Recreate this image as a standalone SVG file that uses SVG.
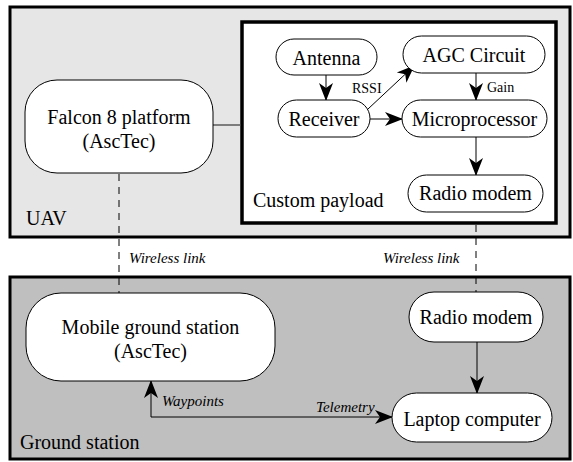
<svg xmlns="http://www.w3.org/2000/svg" width="573" height="462" viewBox="0 0 573 462">
<defs>
<marker id="ah" markerUnits="userSpaceOnUse" markerWidth="18" markerHeight="16" refX="17" refY="8" orient="auto-start-reverse" viewBox="0 0 18 16">
<path d="M0,1 L18,8 L0,15 L5,8 Z" fill="#000"/>
</marker>
<style>
.node{fill:#fff;stroke:#000;stroke-width:1}
.t{font-family:"Liberation Serif","DejaVu Serif",serif;font-size:20px;fill:#000;text-anchor:middle}
.lbl{font-family:"Liberation Serif","DejaVu Serif",serif;font-size:20px;fill:#000}
.sm{font-family:"Liberation Serif","DejaVu Serif",serif;font-size:14px;fill:#000}
.it{font-family:"Liberation Serif","DejaVu Serif",serif;font-size:15px;font-style:italic;fill:#000}
.c{fill:none;stroke:#000;stroke-width:1}
.d{fill:none;stroke:#000;stroke-width:1;stroke-dasharray:7,6}
</style>
</defs>
<rect width="573" height="462" fill="#fff"/>
<g id="uav">
<rect x="10" y="7" width="560" height="230" fill="#e6e6e6" stroke="#000" stroke-width="3"/>
<text class="lbl" x="26" y="225">UAV</text>
</g>
<g id="ground">
<rect x="10" y="277" width="560" height="182" fill="#bfbfbf" stroke="#000" stroke-width="3"/>
<text class="lbl" x="20" y="449">Ground station</text>
</g>
<g id="payload">
<rect x="242" y="22" width="314" height="201" fill="#fff" stroke="#000" stroke-width="3.5"/>
<text class="lbl" x="253" y="207">Custom payload</text>
</g>
<g id="connectors">
<line x1="213" y1="125" x2="241" y2="125" stroke="#444" stroke-width="1.3"/>
<line class="d" x1="119" y1="174" x2="119" y2="293"/>
<line class="d" x1="476" y1="225" x2="476" y2="292"/>
<line class="c" x1="326" y1="75" x2="326" y2="100" marker-end="url(#ah)"/>
<line class="c" x1="370" y1="119" x2="402" y2="119" marker-end="url(#ah)"/>
<line class="c" x1="368" y1="109" x2="414" y2="66" marker-end="url(#ah)"/>
<line class="c" x1="476" y1="73" x2="476" y2="100" marker-end="url(#ah)"/>
<line class="c" x1="476" y1="137" x2="476" y2="175" marker-end="url(#ah)"/>
<line class="c" x1="477" y1="342" x2="477" y2="393" marker-end="url(#ah)"/>
<path class="c" d="M151,381 V417 H392" marker-start="url(#ah)" marker-end="url(#ah)"/>
<text class="sm" x="352" y="93">RSSI</text>
<text class="sm" x="487" y="92">Gain</text>
<text class="it" x="129" y="263">Wireless link</text>
<text class="it" x="383" y="263">Wireless link</text>
<text class="it" x="162" y="406">Waypoints</text>
<text class="it" x="316" y="412">Telemetry</text>
</g>
<g id="falcon">
<rect class="node" x="25" y="80" width="188" height="93" rx="32"/>
<text class="t" x="119" y="124">Falcon 8 platform</text>
<text class="t" x="119" y="148">(AscTec)</text>
</g>
<g id="antenna">
<rect class="node" x="276" y="39" width="101" height="36" rx="18"/>
<text class="t" x="326.5" y="65">Antenna</text>
</g>
<g id="agc">
<rect class="node" x="403" y="36" width="142" height="37" rx="18.5"/>
<text class="t" x="474" y="62">AGC Circuit</text>
</g>
<g id="receiver">
<rect class="node" x="278" y="100" width="92" height="37" rx="18.5"/>
<text class="t" x="324" y="126">Receiver</text>
</g>
<g id="micro">
<rect class="node" x="402" y="100" width="145" height="37" rx="18.5"/>
<text class="t" x="474.5" y="126">Microprocessor</text>
</g>
<g id="radio-uav">
<rect class="node" x="408" y="175" width="135" height="37" rx="18.5"/>
<text class="t" x="475.5" y="200">Radio modem</text>
</g>
<g id="mobile">
<rect class="node" x="26" y="293" width="249" height="88" rx="35"/>
<text class="t" x="150.5" y="334">Mobile ground station</text>
<text class="t" x="150.5" y="358">(AscTec)</text>
</g>
<g id="radio-ground">
<rect class="node" x="409" y="292" width="134" height="50" rx="25"/>
<text class="t" x="476" y="324">Radio modem</text>
</g>
<g id="laptop">
<rect class="node" x="392" y="393" width="160" height="49" rx="24.5"/>
<text class="t" x="472" y="426">Laptop computer</text>
</g>
</svg>
